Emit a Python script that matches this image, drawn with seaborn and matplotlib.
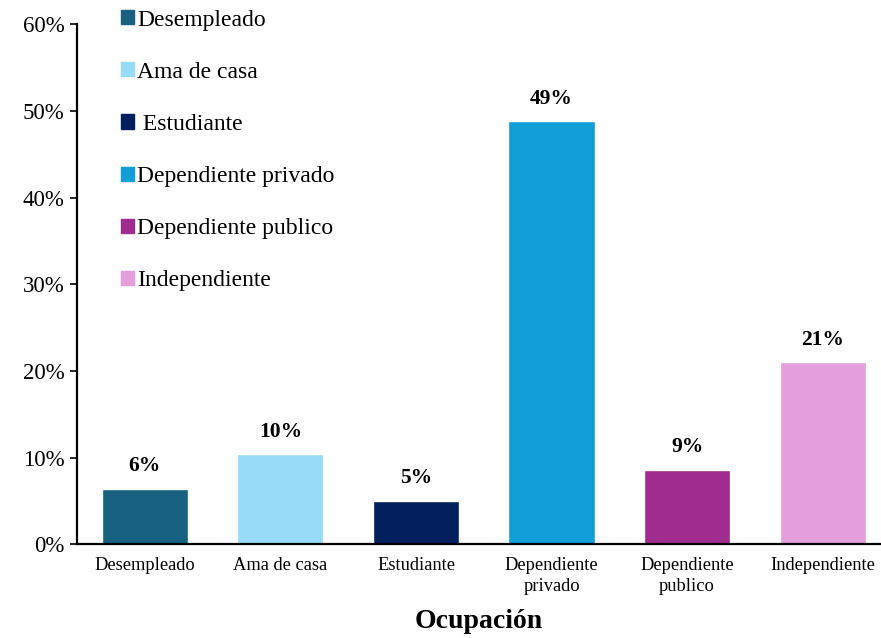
import matplotlib
matplotlib.use("Agg")
import matplotlib.pyplot as plt
import matplotlib.ticker as mtick
import seaborn as sns
import pandas as pd

categorias = ["Desempleado", "Ama de casa", "Estudiante",
              "Dependiente\nprivado", "Dependiente\npublico", "Independiente"]
leyenda = ["Desempleado", "Ama de casa", " Estudiante",
           "Dependiente privado", "Dependiente publico", "Independiente"]
porcentajes = [0.064, 0.104, 0.050, 0.488, 0.086, 0.210]
colores = ["#17607F", "#97DBF7", "#02205E", "#119ED6", "#A02B8E", "#E49EDB"]

df = pd.DataFrame({"ocupacion": categorias, "pct": porcentajes})

sns.set_theme(style="white")
plt.rcParams["font.family"] = ["Liberation Serif", "DejaVu Serif"]
plt.rcParams["text.color"] = "black"

fig = plt.figure(figsize=(8.81, 6.38), dpi=100)
ax = fig.add_axes([0.0874, 0.147, 0.9126, 0.815])

sns.barplot(data=df, x="ocupacion", y="pct", hue="ocupacion", palette=colores,
            width=0.635, saturation=1, legend=False, ax=ax)

for c in ax.containers:
    ax.bar_label(c, fmt="{:.0%}", padding=9, fontsize=15.5, fontweight="bold",
                 color="black")

ax.set_ylim(0, 0.60)
ax.set_xlim(-0.5, 5.43)
ax.yaxis.set_major_locator(mtick.MultipleLocator(0.10))
ax.yaxis.set_major_formatter(mtick.PercentFormatter(1.0, decimals=0))
ax.tick_params(axis="y", labelsize=16.5, direction="out", length=5, width=1.2,
               left=True, pad=4, colors="black")
ax.tick_params(axis="x", labelsize=13.3, direction="in", length=4, width=1.2,
               bottom=True, pad=9, colors="black")
for lbl in ax.get_xticklabels():
    lbl.set_linespacing(1.3)

ax.set_ylabel("")
ax.set_xlabel("Ocupación", fontsize=20, fontweight="bold", labelpad=10,
              color="black")

sns.despine(ax=ax)
for s in ["left", "bottom"]:
    ax.spines[s].set_color("black")
    ax.spines[s].set_linewidth(1.6)

handles = [plt.Rectangle((0, 0), 1, 1, color=col) for col in colores]
ax.legend(handles, leyenda, loc="upper left", bbox_to_anchor=(0.1375, 0.985),
          bbox_transform=fig.transFigure, frameon=False, fontsize=17,
          handlelength=0.55, handleheight=0.55, handletextpad=0.12,
          labelspacing=1.32, borderaxespad=0, borderpad=0)

fig.savefig("out.png", dpi=100)
